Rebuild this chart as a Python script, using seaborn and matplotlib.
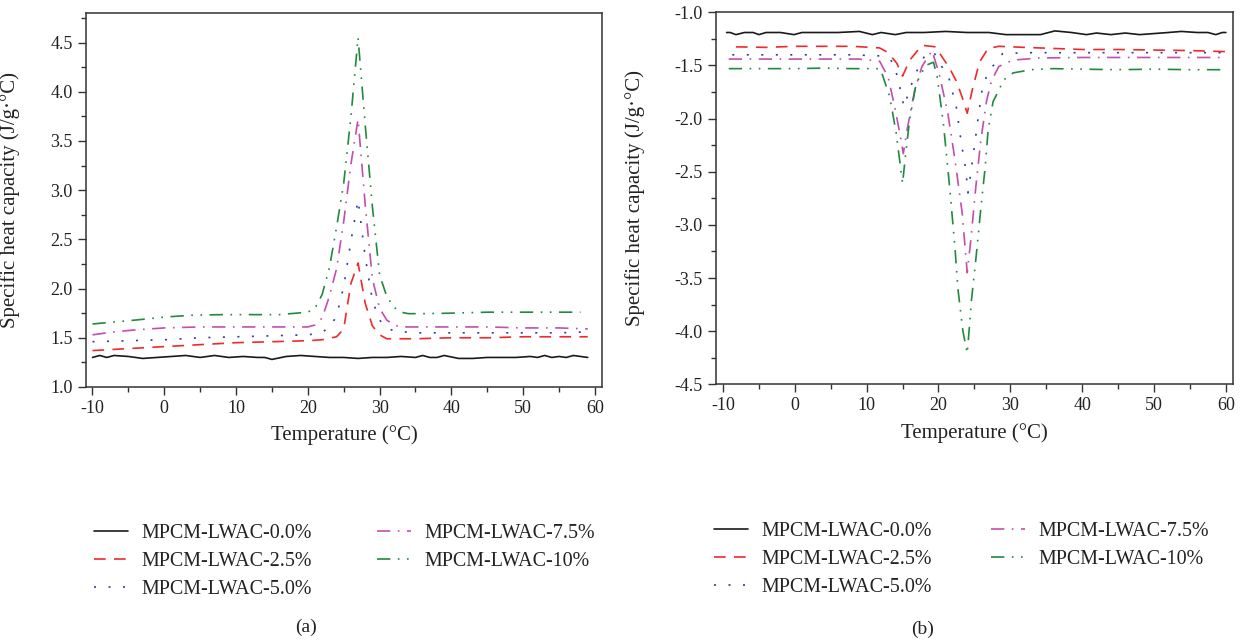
import matplotlib
matplotlib.use("Agg")
import matplotlib.pyplot as plt
from matplotlib.ticker import MultipleLocator, FormatStrFormatter
import seaborn as sns

labels = ["MPCM-LWAC-0.0%", "MPCM-LWAC-2.5%", "MPCM-LWAC-5.0%",
          "MPCM-LWAC-7.5%", "MPCM-LWAC-10%"]

# ---------------- panel (a) : heating ----------------
a_t_00 = [-10, -9, -8, -7, -5, -3, -1, 1, 3, 5, 7, 9, 11, 13, 14, 15, 17, 19, 21, 23, 25, 27,
          29, 31, 33, 35, 36, 37, 38, 39, 41, 43, 45, 47, 49, 51, 52, 53, 54, 55, 56, 57, 58, 59]
a_c_00 = [1.30, 1.32, 1.30, 1.32, 1.31, 1.29, 1.30, 1.31, 1.32, 1.30, 1.32, 1.30, 1.31, 1.30,
          1.30, 1.28, 1.31, 1.32, 1.31, 1.30, 1.30, 1.29, 1.30, 1.30, 1.31, 1.30, 1.32, 1.30,
          1.30, 1.32, 1.29, 1.29, 1.30, 1.30, 1.30, 1.31, 1.30, 1.32, 1.30, 1.31, 1.30, 1.32,
          1.31, 1.30]
a_t_25 = [-10, -5, 0, 5, 10, 15, 20, 22, 24, 25, 26, 27, 28, 29, 30, 31, 32, 35, 40, 45, 50, 55, 59]
a_c_25 = [1.37, 1.39, 1.41, 1.43, 1.45, 1.46, 1.47, 1.48, 1.51, 1.59, 2.05, 2.26, 1.85, 1.62,
          1.53, 1.49, 1.49, 1.49, 1.50, 1.50, 1.51, 1.51, 1.51]
a_t_50 = [-10, -5, 0, 5, 10, 15, 20, 21, 22, 23, 24, 25, 26, 27, 28, 29, 30, 31, 32, 35, 40,
          45, 50, 55, 59]
a_c_50 = [1.46, 1.47, 1.48, 1.50, 1.51, 1.52, 1.53, 1.54, 1.56, 1.60, 1.72, 2.02, 2.48, 2.90,
          2.32, 1.88, 1.68, 1.60, 1.57, 1.55, 1.55, 1.55, 1.55, 1.55, 1.56]
a_t_75 = [-10, -7, -4, 0, 5, 10, 15, 20, 21, 22, 23, 24, 25, 26, 27, 28, 29, 30, 31, 32, 33,
          35, 40, 45, 50, 55, 59]
a_c_75 = [1.53, 1.56, 1.58, 1.60, 1.61, 1.61, 1.61, 1.61, 1.63, 1.70, 1.92, 2.20, 2.68, 3.26,
          3.72, 2.85, 2.10, 1.80, 1.68, 1.63, 1.61, 1.61, 1.61, 1.61, 1.60, 1.60, 1.59]
a_t_10 = [-10, -7, -4, 0, 4, 8, 12, 16, 20, 21, 22, 23, 24, 25, 26, 27, 28, 29, 30, 31, 32,
          33, 34, 36, 40, 45, 50, 55, 58]
a_c_10 = [1.64, 1.66, 1.68, 1.71, 1.73, 1.735, 1.735, 1.735, 1.76, 1.80, 1.94, 2.21, 2.62,
          3.07, 3.74, 4.55, 3.66, 2.83, 2.14, 1.92, 1.81, 1.76, 1.745, 1.745, 1.75, 1.76, 1.76,
          1.76, 1.76]

# ---------------- panel (b) : cooling ----------------
b_t_00 = [-9.5, -9, -8.2, -7, -5.8, -5, -4, -2, -0.1, 1, 3, 6, 9, 10.8, 12, 14, 15.5, 18, 21,
          24, 27, 29.4, 32, 34.2, 36.2, 38.5, 40.6, 42, 44, 46, 48, 50, 52, 53.8, 56, 57.5,
          58.6, 59.5, 60]
b_c_00 = [-1.19, -1.19, -1.21, -1.19, -1.19, -1.21, -1.19, -1.19, -1.21, -1.19, -1.19, -1.19,
          -1.18, -1.21, -1.19, -1.21, -1.19, -1.19, -1.18, -1.19, -1.19, -1.21, -1.21, -1.21,
          -1.175, -1.19, -1.21, -1.195, -1.21, -1.195, -1.21, -1.20, -1.19, -1.18, -1.19,
          -1.19, -1.21, -1.19, -1.19]
b_t_25 = [-8.2, -4, 0, 4, 8, 11.8, 13, 14.2, 15, 16, 17.7, 19.6, 20.6, 21.5, 22.5, 23.3, 24,
          24.7, 25.7, 26.9, 28.4, 32, 36, 40, 45, 50, 55, 60]
b_c_25 = [-1.325, -1.33, -1.32, -1.32, -1.32, -1.335, -1.38, -1.48, -1.60, -1.45, -1.31,
          -1.325, -1.43, -1.52, -1.65, -1.80, -1.95, -1.73, -1.47, -1.34, -1.32, -1.33, -1.34,
          -1.35, -1.35, -1.355, -1.36, -1.37]
b_t_50 = [-8.7, -4, 0, 4, 8, 11.8, 13, 13.8, 14.5, 15.2, 16, 17, 18, 19.3, 20.2, 21.5, 22.5,
          23.2, 23.8, 24.1, 24.5, 25, 25.6, 26.2, 27.3, 28.9, 32, 36, 40, 45, 50, 55, 60]
b_c_50 = [-1.40, -1.40, -1.40, -1.40, -1.40, -1.41, -1.43, -1.48, -1.67, -1.89, -1.72, -1.55,
          -1.42, -1.37, -1.48, -1.63, -1.90, -2.24, -2.48, -2.70, -2.51, -2.26, -1.95, -1.67,
          -1.53, -1.39, -1.38, -1.38, -1.38, -1.38, -1.38, -1.38, -1.38]
b_t_75 = [-9.2, -4, 0, 4, 8.9, 11.8, 13, 14, 14.7, 15.1, 15.7, 16.7, 17.7, 19.1, 20.1, 21.3,
          22.3, 23.3, 24, 24.5, 25.2, 25.9, 26.7, 27.4, 28.4, 30.3, 34, 40, 45, 50, 55, 60]
b_c_75 = [-1.44, -1.44, -1.44, -1.44, -1.44, -1.46, -1.61, -1.92, -2.17, -2.33, -2.08, -1.73,
          -1.51, -1.36, -1.58, -1.95, -2.39, -2.89, -3.45, -3.14, -2.64, -2.20, -1.83, -1.64,
          -1.51, -1.45, -1.43, -1.425, -1.425, -1.425, -1.425, -1.425]
b_t_10 = [-9.2, -4, 0, 4, 8, 11.8, 12.1, 13.2, 14.1, 15.0, 15.4, 16.0, 16.9, 18.2, 19.3, 19.8,
          20.2, 20.7, 21.2, 21.6, 22.3, 22.7, 23.4, 24.0, 24.3, 24.6, 25.1, 25.5, 26.0, 26.5,
          26.9, 27.6, 28.5, 29.0, 30.4, 32.9, 36, 40, 45, 50, 55, 60]
b_c_10 = [-1.53, -1.53, -1.53, -1.525, -1.53, -1.53, -1.57, -1.79, -2.13, -2.61, -2.35, -2.00,
          -1.67, -1.50, -1.47, -1.60, -1.80, -2.06, -2.40, -2.68, -3.22, -3.60, -4.00, -4.21,
          -3.96, -3.70, -3.39, -3.12, -2.77, -2.46, -2.11, -1.84, -1.72, -1.64, -1.57, -1.54,
          -1.53, -1.535, -1.54, -1.535, -1.54, -1.54]

colors = ["#1a1a1a", "#ee2a2c", "#2f3d9e", "#c24fae", "#1f8a40"]
styles = ["-", (0, (7, 5)), (0, (1.2, 7.5)), (0, (8, 4.5, 1.0, 4.5)),
          (0, (8, 4.5, 1.0, 4.5, 1.0, 4.5))]

sns.set_style("ticks")
plt.rcParams["font.family"] = ["Liberation Serif", "DejaVu Serif"]
plt.rcParams["axes.unicode_minus"] = False

fig = plt.figure(figsize=(12.45, 6.41), dpi=100)
axa = fig.add_axes([0.0691, 0.3963, 0.4145, 0.5834])
axb = fig.add_axes([0.5751, 0.4005, 0.4153, 0.5803])

panel_a = [(a_t_00, a_c_00), (a_t_25, a_c_25), (a_t_50, a_c_50), (a_t_75, a_c_75), (a_t_10, a_c_10)]
panel_b = [(b_t_00, b_c_00), (b_t_25, b_c_25), (b_t_50, b_c_50), (b_t_75, b_c_75), (b_t_10, b_c_10)]

for ax, panel in ((axa, panel_a), (axb, panel_b)):
    for (t, c), lab, col, ls in zip(panel, labels, colors, styles):
        sns.lineplot(x=t, y=c, ax=ax, color=col, linestyle=ls, linewidth=1.2,
                     label=lab, sort=False, errorbar=None)
    if ax.get_legend() is not None:
        ax.get_legend().remove()

axa.set_xlim(-10.9, 61.0)
axa.set_ylim(1.0, 4.8)
axa.yaxis.set_major_locator(MultipleLocator(0.5))
axa.yaxis.set_minor_locator(MultipleLocator(0.25))
axb.set_xlim(-10.97, 61.0)
axb.set_ylim(-4.5, -1.0)
axb.yaxis.set_major_locator(MultipleLocator(0.5))
axb.yaxis.set_minor_locator(MultipleLocator(0.25))

for ax in (axa, axb):
    ax.xaxis.set_major_locator(MultipleLocator(10))
    ax.xaxis.set_minor_locator(MultipleLocator(5))
    ax.yaxis.set_major_formatter(FormatStrFormatter("%.1f"))
    ax.tick_params(which="both", direction="out", top=False, right=False,
                   color="#333333", width=1.0, labelsize=13, labelcolor="#222222")
    ax.tick_params(which="major", length=6)
    ax.tick_params(which="minor", length=3.5)
    for sp in ax.spines.values():
        sp.set_visible(True)
        sp.set_color("#333333")
        sp.set_linewidth(1.1)
    ax.set_xlabel("Temperature (°C)", fontsize=15, color="#222222", labelpad=6)
    ax.set_ylabel("Specific heat capacity (J/g·°C)", fontsize=15, color="#222222")

axa.yaxis.set_label_coords(-0.128, 0.5)
axb.yaxis.set_label_coords(-0.137, 0.5)

for ax, x0, top, cs in ((axa, 94 / 1245, 1 - 524 / 641, 3.3), (axb, 714 / 1245, 1 - 522 / 641, 3.0)):
    h, l = ax.get_legend_handles_labels()
    fig.legend(h, l, loc="upper left", bbox_to_anchor=(x0, top), ncol=2, frameon=False,
               fontsize=14.4, handlelength=1.7, handletextpad=0.65, columnspacing=cs,
               labelspacing=0.45, borderpad=0, borderaxespad=0,
               labelcolor="#222222")

fig.text(306 / 1245, 1 - 627 / 641, "(a)", ha="center", va="center", fontsize=14, color="#222222")
fig.text(923 / 1245, 1 - 629 / 641, "(b)", ha="center", va="center", fontsize=14, color="#222222")

fig.savefig("out.png", dpi=100)
